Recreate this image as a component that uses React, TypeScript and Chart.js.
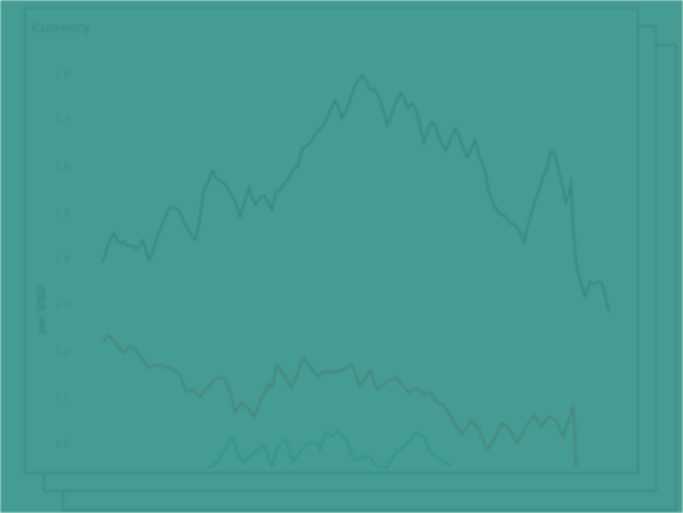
import React, { useEffect, useRef } from "react";
import { Chart, registerables } from "chart.js";

Chart.register(...registerables);

const chartTitle = "Currency";
const yAxisTitle = "per USD";
const yTickValues = [1.0, 1.1, 1.2, 1.3, 1.4, 1.5, 1.6, 1.7, 1.8];

const topT = [0, 0.8, 1.6, 2.2, 2.8, 3.4, 4.2, 5, 5.8, 6.6, 7.4, 8, 8.6, 9.2, 9.8, 10.8, 12, 13, 13.6, 14.6, 15.4, 16.2, 17, 17.8, 18.4, 19.2, 20, 21, 22, 22.6, 23.2, 24.2, 25.2, 26.4, 27.4, 28.2, 29.2, 30, 30.6, 31.4, 32.2, 33, 33.8, 34.6, 35.4, 36.4, 37.2, 38, 39, 40, 41, 42, 43, 44, 44.6, 45.4, 46.4, 47.2, 47.8, 48.6, 49.4, 50, 50.8, 51.8, 52.6, 53.4, 54.2, 55, 55.8, 56.8, 57.6, 58.6, 59.6, 60.4, 61, 61.8, 62.6, 63.4, 64.2, 65, 65.6, 66.4, 67.4, 68.6, 69.4, 70.4, 71.2, 72, 72.8, 73.6, 74.4, 75.2, 76, 76.4, 77.2, 78.2, 79.2, 80.2, 81.2, 82.2, 83.2, 84.2, 85, 86, 87, 88, 88.8, 89.6, 90.4, 91.2, 92, 92.6, 93.2, 93.6, 94, 94.6, 95.4, 96.4, 97, 97.4, 98.4, 99.2, 99.8, 100.4, 101.2];
const topV = [1.395, 1.425, 1.447, 1.457, 1.442, 1.436, 1.438, 1.429, 1.431, 1.421, 1.431, 1.442, 1.421, 1.399, 1.41, 1.447, 1.481, 1.507, 1.513, 1.511, 1.503, 1.481, 1.464, 1.451, 1.442, 1.475, 1.544, 1.567, 1.593, 1.576, 1.572, 1.565, 1.55, 1.528, 1.492, 1.518, 1.556, 1.528, 1.518, 1.533, 1.539, 1.524, 1.507, 1.546, 1.55, 1.565, 1.576, 1.593, 1.604, 1.643, 1.647, 1.662, 1.679, 1.69, 1.701, 1.722, 1.744, 1.727, 1.705, 1.722, 1.744, 1.766, 1.783, 1.798, 1.787, 1.766, 1.77, 1.755, 1.733, 1.69, 1.712, 1.74, 1.761, 1.744, 1.727, 1.738, 1.722, 1.69, 1.651, 1.679, 1.697, 1.69, 1.658, 1.636, 1.658, 1.684, 1.669, 1.641, 1.621, 1.636, 1.658, 1.625, 1.604, 1.593, 1.544, 1.518, 1.5, 1.496, 1.481, 1.475, 1.464, 1.438, 1.475, 1.513, 1.544, 1.578, 1.597, 1.636, 1.625, 1.589, 1.554, 1.522, 1.539, 1.565, 1.475, 1.393, 1.356, 1.319, 1.339, 1.352, 1.347, 1.352, 1.35, 1.324, 1.287];

const midT = [0, 1.2, 2.4, 3.4, 4.4, 5.2, 6.2, 7.6, 9.2, 10.6, 12.2, 13.6, 15.4, 16.6, 18, 19.4, 20.8, 22.4, 24, 25.2, 26.4, 27.8, 28.8, 30.2, 31.6, 33.2, 33.8, 34.8, 36.2, 37.6, 39, 40, 41.6, 43, 44, 46, 48, 49.8, 51.4, 53.4, 54.8, 56.8, 58.6, 59.8, 61.2, 62.6, 64.2, 65.6, 66.6, 68, 69.4, 70.8, 71.8, 73.8, 75.2, 76.8, 78.2, 79.8, 81.2, 82.8, 84.6, 86.2, 87.6, 89.2, 90.6, 92, 93, 94, 94.4, 94.8];
const midV = [1.222, 1.237, 1.222, 1.205, 1.199, 1.212, 1.209, 1.188, 1.166, 1.173, 1.169, 1.166, 1.151, 1.115, 1.119, 1.104, 1.123, 1.141, 1.147, 1.123, 1.072, 1.091, 1.082, 1.061, 1.097, 1.13, 1.123, 1.173, 1.151, 1.123, 1.156, 1.188, 1.166, 1.147, 1.158, 1.156, 1.162, 1.173, 1.125, 1.162, 1.119, 1.136, 1.147, 1.13, 1.113, 1.123, 1.108, 1.113, 1.093, 1.087, 1.065, 1.037, 1.022, 1.054, 1.033, 0.99, 1.011, 1.048, 1.033, 1.005, 1.039, 1.065, 1.039, 1.061, 1.054, 1.018, 1.048, 1.082, 1.026, 0.9];

const lowT = [21.4, 22.8, 24.4, 25.8, 27.2, 28.2, 29.8, 32.2, 33.8, 34.8, 36.6, 38, 39.2, 41.4, 43, 43.4, 44.6, 46, 47, 48.8, 50.2, 51.4, 53.4, 54.8, 56.8, 58.6, 60.2, 62.6, 64.2, 65.4, 67, 68.4, 69.6];
const lowV = [0.951, 0.962, 0.99, 1.018, 0.975, 0.962, 0.979, 1.0, 0.953, 0.994, 1.011, 0.962, 0.985, 1.005, 1.005, 0.99, 1.028, 1.018, 1.033, 1.007, 0.968, 0.972, 0.975, 0.953, 0.951, 0.983, 0.996, 1.026, 1.018, 0.985, 0.972, 0.962, 0.953];

const BG = "#449c92";
const BORDER = "#3b8e84";
const TEXT = "#3a8b81";

const toPoints = (t: number[], v: number[]) => t.map((x, i) => ({ x, y: v[i] }));

function CurrencyChart() {
  const ref = useRef<HTMLCanvasElement | null>(null);
  useEffect(() => {
    if (!ref.current) return;
    const chart = new Chart(ref.current, {
      type: "line",
      data: {
        datasets: [
          { data: toPoints(topT, topV), borderColor: "#2b8689", borderWidth: 1.6 },
          { data: toPoints(midT, midV), borderColor: "#4a8179", borderWidth: 1.6 },
          { data: toPoints(lowT, lowV), borderColor: "#2d9587", borderWidth: 1.6 },
        ],
      },
      options: {
        animation: false,
        responsive: false,
        maintainAspectRatio: false,
        layout: { padding: { left: 6, right: 22, top: 0, bottom: 4 } },
        elements: { point: { radius: 0 }, line: { tension: 0 } },
        plugins: {
          legend: { display: false },
          tooltip: { enabled: false },
          title: {
            display: true,
            text: chartTitle,
            align: "start",
            color: TEXT,
            font: { family: "DejaVu Sans", size: 13, weight: "normal" },
            padding: { top: 12, bottom: 24 },
          },
        },
        scales: {
          x: { type: "linear", display: false, min: -5, max: 102.4 },
          y: {
            min: 0.95,
            max: 1.83,
            grid: { display: false, drawTicks: false },
            border: { display: false },
            afterBuildTicks: (scale: any) => {
              scale.ticks = yTickValues.map((value) => ({ value }));
            },
            afterFit: (scale: any) => {
              scale.width = 46;
              scale.paddingTop = 0;
              scale.paddingBottom = 0;
            },
            ticks: {
              color: "#3d9088",
              padding: 8,
              font: { family: "DejaVu Sans", size: 9.5 },
              callback: (v: any) => Number(v).toFixed(1),
            },
          },
        },
      },
    } as any);
    return () => chart.destroy();
  }, []);
  return <canvas ref={ref} width={611} height={463} style={{ display: "block" }} />;
}

const cardBase: React.CSSProperties = {
  position: "absolute",
  width: 615,
  height: 467,
  boxSizing: "border-box",
  border: `2px solid ${BORDER}`,
  background: BG,
};

export default function App() {
  return (
    <div
      style={{
        position: "fixed",
        left: 0,
        top: 0,
        width: 683,
        height: 513,
        background: BG,
        overflow: "hidden",
        filter: "blur(0.9px)",
      }}
    >
      <div style={{ ...cardBase, left: 62, top: 44 }} />
      <div style={{ ...cardBase, left: 43, top: 25, width: 614 }} />
      <div style={{ ...cardBase, left: 24, top: 7 }}>
        <CurrencyChart />
        <div
          style={{
            position: "absolute",
            left: 15,
            top: 301,
            transform: "translate(-50%, -50%) rotate(-90deg)",
            color: TEXT,
            fontFamily: "DejaVu Sans",
            fontSize: 10.5,
            fontWeight: "bold",
            whiteSpace: "nowrap",
          }}
        >
          {yAxisTitle}
        </div>
      </div>
    </div>
  );
}
